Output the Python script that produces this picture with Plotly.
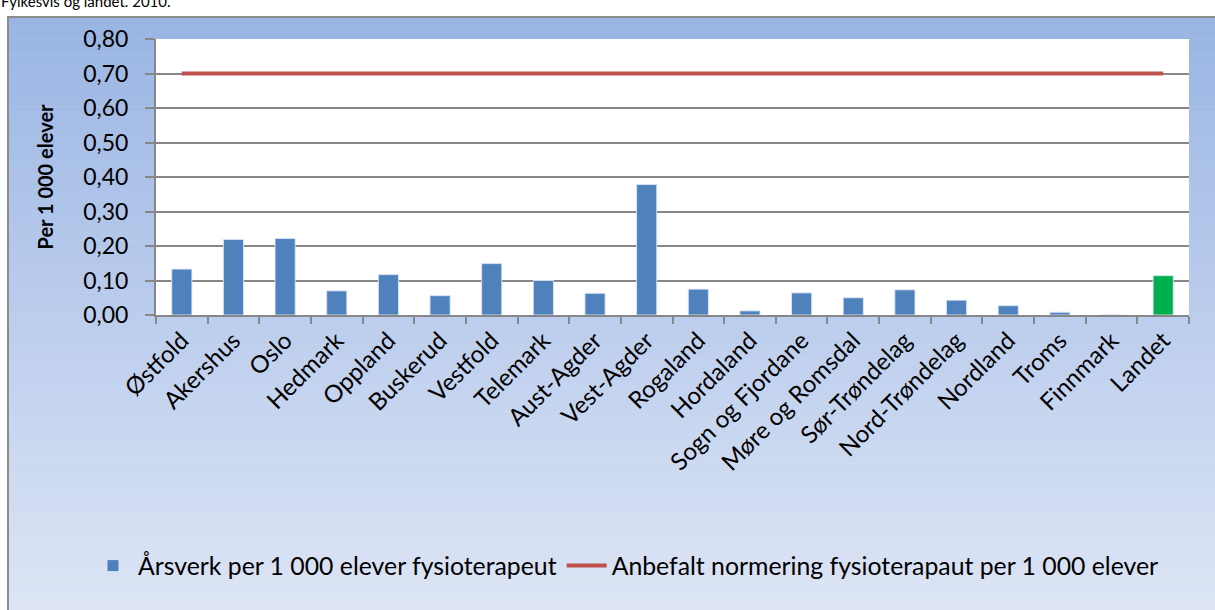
import plotly.graph_objects as go

categories = ["Østfold", "Akershus", "Oslo", "Hedmark", "Oppland", "Buskerud", "Vestfold",
              "Telemark", "Aust-Agder", "Vest-Agder", "Rogaland", "Hordaland",
              "Sogn og Fjordane", "Møre og Romsdal", "Sør-Trøndelag", "Nord-Trøndelag",
              "Nordland", "Troms", "Finnmark", "Landet"]
arsverk = [0.133, 0.219, 0.222, 0.070, 0.117, 0.056, 0.149, 0.100, 0.063, 0.378,
           0.075, 0.012, 0.064, 0.050, 0.073, 0.043, 0.027, 0.008, 0.0, 0.114]
anbefalt = [0.70] * len(categories)
yticks = [0.0, 0.1, 0.2, 0.3, 0.4, 0.5, 0.6, 0.7, 0.8]

FONT = "Lato"
W, H = 1215, 610
ML, MR, MT, MB = 156, 26, 39, 295
PW, PH = W - ML - MR, H - MT - MB

def px_x(px):
    return (px - ML) / PW

def px_y(py_from_top):
    return (H - py_from_top - MB) / PH

bar_colors = ["#4f81bd"] * (len(categories) - 1) + ["#00b050"]

fig = go.Figure()
fig.add_trace(go.Bar(
    x=categories, y=arsverk, name="Årsverk per 1 000 elever fysioterapeut",
    marker=dict(color=bar_colors, line=dict(color="rgba(220,230,245,0.9)", width=1)),
))
fig.add_trace(go.Scatter(
    x=categories, y=anbefalt, mode="lines",
    name="Anbefalt normering fysioterapaut per 1 000 elever",
    line=dict(color="#c0504d", width=4),
))

# gradient background of the chart area
shapes = []
top_px, bot_px = 17, 612
n = 80
c0 = (154, 181, 228)
c1 = (221, 229, 245)
for i in range(n):
    f = i / (n - 1)
    col = tuple(round(c0[k] + (c1[k] - c0[k]) * f) for k in range(3))
    y0p = top_px + (bot_px - top_px) * i / n
    y1p = top_px + (bot_px - top_px) * (i + 1) / n + 0.5
    shapes.append(dict(type="rect", xref="paper", yref="paper", layer="below",
                       x0=px_x(8), x1=px_x(W + 2), y0=px_y(y1p), y1=px_y(y0p),
                       line=dict(width=0), fillcolor="rgb(%d,%d,%d)" % col))
# white plot area
shapes.append(dict(type="rect", xref="paper", yref="paper", layer="below",
                   x0=0, x1=1, y0=0, y1=1, line=dict(width=0), fillcolor="white"))
# border
shapes.append(dict(type="rect", xref="paper", yref="paper", layer="below",
                   x0=px_x(8), x1=px_x(W + 5), y0=px_y(H + 5), y1=px_y(17),
                   line=dict(width=2, color="#8c8c8c"), fillcolor="rgba(0,0,0,0)"))

fig.update_layout(
    width=W, height=H,
    margin=dict(l=ML, r=MR, t=MT, b=MB),
    paper_bgcolor="white", plot_bgcolor="white",
    separators=", ",
    font=dict(family=FONT, color="black", size=24),
    bargap=0.61,
    shapes=shapes,
    showlegend=True,
    legend=dict(orientation="h", x=px_x(88), xanchor="left", y=px_y(566), yanchor="middle",
                font=dict(size=24.8, family=FONT), bgcolor="rgba(0,0,0,0)",
                itemwidth=40, tracegroupgap=0),
    annotations=[dict(text="Fylkesvis og landet. 2010.", xref="paper", yref="paper",
                      x=px_x(-1), y=px_y(12), xanchor="left", yanchor="bottom",
                      showarrow=False, font=dict(size=15, family=FONT))],
)
fig.update_xaxes(
    type="category", tickangle=-45, tickson="boundaries",
    ticks="outside", ticklen=7, tickcolor="#878787", tickwidth=2,
    showline=True, linecolor="#878787", linewidth=2,
    showgrid=False, tickfont=dict(size=24, family=FONT),
)
fig.update_yaxes(
    range=[0, 0.8], tickvals=yticks, tickformat=".2f",
    ticks="outside", ticklen=9, tickcolor="#878787", tickwidth=2,
    showline=True, linecolor="#878787", linewidth=2,
    showgrid=True, gridcolor="#878787", gridwidth=1.5,
    zeroline=False, ticklabelstandoff=12,
    tickfont=dict(size=23, family=FONT),
    title=dict(text="<b>Per 1 000 elever</b>", font=dict(size=20, family=FONT), standoff=24),
)

fig.write_html("out.html", config={"displayModeBar": False},
               post_script="document.body.style.margin='0';document.body.style.overflow='hidden';")
